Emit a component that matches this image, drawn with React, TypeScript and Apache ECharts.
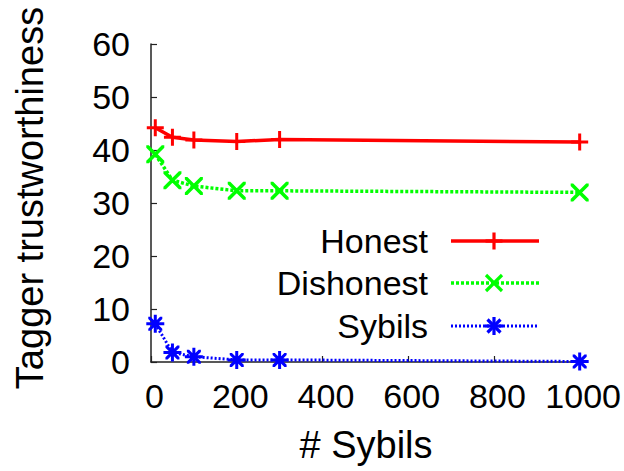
import React, { useEffect, useRef } from "react";
import * as echarts from "echarts";

// Number of Sybil identities injected (x) and mean tagger trustworthiness (y)
const sybilCounts = [10, 50, 100, 200, 300, 1000];
const honest = [44.2, 42.4, 41.9, 41.6, 42.0, 41.5];
const dishonest = [39.2, 34.3, 33.2, 32.3, 32.3, 32.0];
const sybils = [7.2, 1.8, 1.0, 0.4, 0.4, 0.1];

const seriesNames = ["Honest", "Dishonest", "Sybils"];
const seriesColors = ["#ff0000", "#00ff00", "#0000ff"];

const FONT = "'Liberation Sans', Arial, Helvetica, sans-serif";

// Filled marker outlines (nonzero fill, all sub-paths wound the same way)
const PLUS = "path://M7,0H10V17H7Z M0,7H17V10H0Z";
const CROSS =
  "path://M0,0L2.5,0L18,15.5L18,18L15.5,18L0,2.5Z M18,0L18,2.5L2.5,18L0,18L0,15.5L15.5,0Z";
const STAR =
  "path://M7.5,0H10.5V18H7.5Z M0,7.5H18V10.5H0Z M2,2L4.2,2L16,13.8L16,16L13.8,16L2,4.2Z M16,2L16,4.2L4.2,16L2,16L2,13.8L13.8,2Z";

const toPairs = (ys: number[]) => sybilCounts.map((x, i) => [x, ys[i]]);

function legendEntry(i: number, y: number): any[] {
  const color = seriesColors[i];
  const x0 = 451;
  const x1 = 539;
  const cx = 494;
  const dash = i === 0 ? undefined : i === 1 ? [3, 2] : [2, 2];
  const lw = i === 2 ? 3 : 3.5;
  const els: any[] = [
    {
      type: "text",
      x: 428,
      y,
      style: {
        text: seriesNames[i],
        font: `34px ${FONT}`,
        fill: "#000",
        textAlign: "right",
        textVerticalAlign: "middle",
      },
    },
    {
      type: "line",
      shape: { x1: x0, y1: y, x2: x1, y2: y },
      style: { stroke: color, lineWidth: lw, lineDash: dash },
    },
  ];
  const mk = (dx1: number, dy1: number, dx2: number, dy2: number) => ({
    type: "line",
    shape: { x1: cx + dx1, y1: y + dy1, x2: cx + dx2, y2: y + dy2 },
    style: { stroke: color, lineWidth: 3.2 },
  });
  if (i === 0) {
    els.push(mk(0, -8.5, 0, 8.5), mk(-8.5, 0, 8.5, 0));
  } else if (i === 1) {
    els.push(mk(-8, -8, 8, 8), mk(-8, 8, 8, -8));
  } else {
    els.push(mk(0, -9, 0, 9), mk(-9, 0, 9, 0), mk(-6.5, -6.5, 6.5, 6.5), mk(-6.5, 6.5, 6.5, -6.5));
  }
  return els;
}

export default function App() {
  const ref = useRef<HTMLDivElement>(null);

  useEffect(() => {
    document.body.style.margin = "0";
    if (!ref.current) return;
    const chart = echarts.init(ref.current, null, { renderer: "svg" });

    const axisLine = { show: true, lineStyle: { color: "#222", width: 1.5 } };
    const axisTick = { show: true, inside: true, length: 6, lineStyle: { color: "#222", width: 1.2 } };
    const labelStyle = { color: "#000", fontSize: 34, fontFamily: FONT };

    chart.setOption({
      animation: false,
      backgroundColor: "#fff",
      grid: { left: 151, right: 43, top: 44, bottom: 109, containLabel: false },
      xAxis: {
        type: "value",
        min: 0,
        max: 1000,
        interval: 200,
        axisLine,
        axisTick,
        splitLine: { show: false },
        axisLabel: {
          ...labelStyle,
          margin: 17,
          showMaxLabel: true,
          padding: [0, 0, 0, 7],
          formatter: (v: number) => String(v),
        },
      },
      yAxis: {
        type: "value",
        min: 0,
        max: 60,
        interval: 10,
        axisLine,
        axisTick,
        splitLine: { show: false },
        axisLabel: { ...labelStyle, margin: 21 },
      },
      series: [
        {
          name: seriesNames[0],
          type: "line",
          data: toPairs(honest),
          symbol: PLUS,
          symbolSize: 17,
          showAllSymbol: true,
          itemStyle: { color: seriesColors[0] },
          lineStyle: { color: seriesColors[0], width: 3.5 },
          z: 3,
        },
        {
          name: seriesNames[1],
          type: "line",
          data: toPairs(dishonest),
          symbol: CROSS,
          symbolSize: 18,
          showAllSymbol: true,
          itemStyle: { color: seriesColors[1] },
          lineStyle: { color: seriesColors[1], width: 3.5, type: [3, 2] },
          z: 3,
        },
        {
          name: seriesNames[2],
          type: "line",
          data: toPairs(sybils),
          symbol: STAR,
          symbolSize: 18,
          showAllSymbol: true,
          clip: false,
          itemStyle: { color: seriesColors[2] },
          lineStyle: { color: seriesColors[2], width: 3, type: [2, 2] },
          z: 3,
        },
      ],
      graphic: [
        {
          type: "text",
          x: 30,
          y: 198,
          rotation: Math.PI / 2,
          style: {
            text: "Tagger trustworthiness",
            font: `38px ${FONT}`,
            fill: "#000",
            textAlign: "center",
            textVerticalAlign: "middle",
          },
        },
        {
          type: "text",
          x: 366,
          y: 445,
          style: {
            text: "# Sybils",
            font: `38px ${FONT}`,
            fill: "#000",
            textAlign: "center",
            textVerticalAlign: "middle",
          },
        },
        ...legendEntry(0, 241),
        ...legendEntry(1, 283),
        ...legendEntry(2, 326),
      ],
    });

    return () => chart.dispose();
  }, []);

  return <div ref={ref} style={{ width: 624, height: 471 }} />;
}
